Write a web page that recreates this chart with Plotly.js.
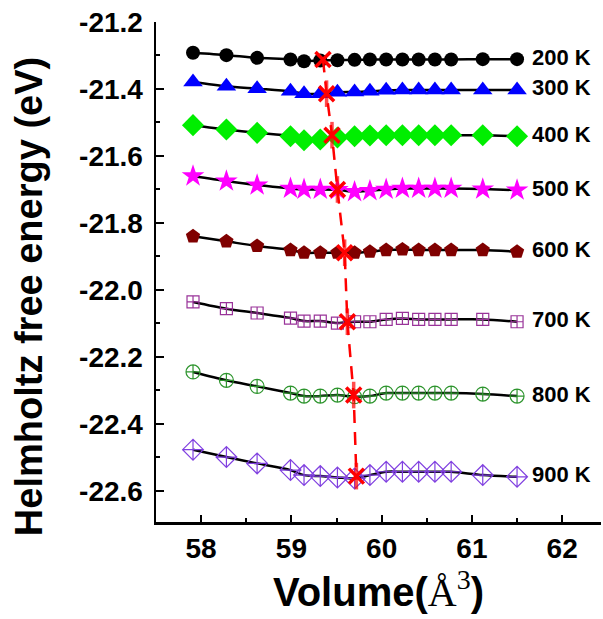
<!DOCTYPE html>
<html>
<head>
<meta charset="utf-8">
<script src="https://cdn.plot.ly/plotly-3.0.1.min.js"></script>
<style>html,body{margin:0;padding:0;background:#fff;}#chart{width:603px;height:619px;}</style>
</head>
<body>
<div id="chart"></div>
<script>
// Volume (Å^3)
var volume = [57.91, 58.28, 58.62, 58.99, 59.14, 59.32, 59.51, 59.70, 59.87, 60.05, 60.23, 60.41, 60.59, 60.77, 61.12, 61.50];
var temps = ['200 K', '300 K', '400 K', '500 K', '600 K', '700 K', '800 K', '900 K'];
var F200 = [-21.292, -21.299, -21.307, -21.312, -21.317, -21.315, -21.314, -21.313, -21.312, -21.312, -21.312, -21.312, -21.312, -21.312, -21.311, -21.311];
var F300 = [-21.379, -21.392, -21.399, -21.407, -21.414, -21.414, -21.410, -21.409, -21.407, -21.404, -21.403, -21.403, -21.403, -21.403, -21.403, -21.403];
var F400 = [-21.508, -21.521, -21.531, -21.541, -21.553, -21.551, -21.545, -21.541, -21.539, -21.538, -21.538, -21.538, -21.538, -21.538, -21.538, -21.541];
var F500 = [-21.660, -21.675, -21.687, -21.697, -21.700, -21.700, -21.701, -21.707, -21.704, -21.700, -21.697, -21.697, -21.697, -21.697, -21.699, -21.702];
var F600 = [-21.840, -21.855, -21.869, -21.881, -21.889, -21.889, -21.889, -21.889, -21.886, -21.881, -21.879, -21.881, -21.881, -21.881, -21.881, -21.886];
var F700 = [-22.036, -22.056, -22.069, -22.084, -22.093, -22.093, -22.099, -22.095, -22.095, -22.088, -22.085, -22.088, -22.088, -22.088, -22.088, -22.095];
var F800 = [-22.245, -22.270, -22.288, -22.308, -22.317, -22.317, -22.314, -22.319, -22.317, -22.308, -22.308, -22.308, -22.308, -22.308, -22.311, -22.317];
var F900 = [-22.477, -22.499, -22.518, -22.538, -22.553, -22.556, -22.560, -22.563, -22.553, -22.543, -22.543, -22.543, -22.543, -22.543, -22.553, -22.558];
// equilibrium (minimum) points
var minV = [59.35, 59.39, 59.45, 59.51, 59.59, 59.62, 59.69, 59.72];
var minF = [-21.312, -21.414, -21.538, -21.700, -21.889, -22.095, -22.314, -22.556];
// axis ticks
var yTickVals = [-21.2, -21.4, -21.6, -21.8, -22.0, -22.2, -22.4, -22.6];
var yTickText = ['-21.2', '-21.4', '-21.6', '-21.8', '-22.0', '-22.2', '-22.4', '-22.6'];
var xTickVals = [58, 59, 60, 61, 62];
var xTickText = ['58', '59', '60', '61', '62'];
var yTitle = 'Helmholtz free energy (eV)';

var series = [F200, F300, F400, F500, F600, F700, F800, F900];
var styles = [
  {symbol: 'circle', color: '#000000', size: 14, lw: 0},
  {symbol: 'triangle-up', color: '#0000FF', size: 17, lw: 0},
  {symbol: 'diamond', color: '#00EE00', size: 17, lw: 0},
  {symbol: 'star', color: '#FF00FF', size: 17, lw: 0},
  {symbol: 'pentagon', color: '#800000', size: 15, lw: 0},
  {symbol: 'square-cross-open', color: '#993399', size: 12, lw: 1.2},
  {symbol: 'circle-cross-open', color: '#2E952E', size: 14, lw: 1.2},
  {symbol: 'diamond-cross-open', color: '#8040E0', size: 16, lw: 1.2}
];

var FONT = 'Liberation Sans, Arial, sans-serif';
var traces = [];
var annotations = [];
series.forEach(function (F, i) {
  var s = styles[i];
  traces.push({
    x: volume, y: F, type: 'scatter', mode: 'lines+markers', name: temps[i],
    line: {color: '#000000', width: 2.5, shape: 'spline', smoothing: 0.8},
    marker: {symbol: s.symbol, color: s.color, size: s.size, line: {color: s.color, width: s.lw}},
    showlegend: false, hoverinfo: 'x+y'
  });
  annotations.push({
    x: 61.644, y: F[F.length - 1], xref: 'x', yref: 'y', xanchor: 'left', yanchor: 'middle',
    yshift: 2, text: '<b>' + temps[i] + '</b>', showarrow: false,
    font: {family: FONT, size: 22, color: '#000000'}
  });
});
// y axis title placed as rotated text
annotations.push({
  x: -0.285, y: 0.45, xref: 'paper', yref: 'paper', xanchor: 'center', yanchor: 'middle',
  textangle: -90, text: '<b>' + yTitle + '</b>', showarrow: false,
  font: {family: FONT, size: 38, color: '#000000'}
});
// dashed red line through minima
traces.push({
  x: minV, y: minF, type: 'scatter', mode: 'lines',
  line: {color: '#FF0000', width: 2.5, dash: '13px,9px'},
  showlegend: false, hoverinfo: 'skip'
});
traces.push({
  x: minV, y: minF, type: 'scatter', mode: 'markers',
  marker: {symbol: 'x-thin-open', size: 15, color: '#FF0000', line: {color: '#FF0000', width: 3.5}},
  showlegend: false
});
traces.push({
  x: minV, y: minF, type: 'scatter', mode: 'markers',
  marker: {symbol: 'line-ns-open', size: minV.map(function (v, i) { return i === 0 ? 0 : 19; }),
           color: '#FF0000', line: {color: '#FF0000', width: 3.5}},
  showlegend: false, hoverinfo: 'skip'
});

var layout = {
  width: 603, height: 619,
  margin: {l: 156, r: 2, t: 22, b: 97, pad: 0},
  paper_bgcolor: '#ffffff', plot_bgcolor: '#ffffff',
  font: {family: FONT, color: '#000000'},
  showlegend: false,
  xaxis: {
    range: [57.5, 62.43], showgrid: false, zeroline: false,
    showline: true, linecolor: '#000000', linewidth: 2.5,
    ticks: 'inside', ticklen: 7, tickwidth: 2, tickcolor: '#000000',
    tickmode: 'array', tickvals: xTickVals, ticktext: xTickText,
    minor: {ticks: 'inside', ticklen: 4, tickwidth: 2, tickcolor: '#000000', dtick: 0.5, tick0: 58, showgrid: false},
    tickfont: {family: FONT, size: 28, color: '#000000', weight: 'bold'},
    title: {text: '<b>Volume(</b><span style="font-family:\'Liberation Serif\', serif;font-weight:normal">Å<sup>3</sup></span><b>)</b>',
            font: {family: FONT, size: 40, color: '#000000'}, standoff: 4}
  },
  yaxis: {
    range: [-22.693, -21.2], showgrid: false, zeroline: false,
    showline: true, linecolor: '#000000', linewidth: 2.5,
    ticks: 'inside', ticklen: 8, tickwidth: 2, tickcolor: '#000000',
    ticklabelstandoff: 5,
    tickmode: 'array', tickvals: yTickVals, ticktext: yTickText,
    minor: {ticks: 'inside', ticklen: 4, tickwidth: 2, tickcolor: '#000000', dtick: 0.1, tick0: -21.2, showgrid: false},
    tickfont: {family: FONT, size: 28, color: '#000000', weight: 'bold'}
  },
  annotations: annotations
};

Plotly.newPlot('chart', traces, layout, {displayModeBar: false, staticPlot: true});
</script>
</body>
</html>
